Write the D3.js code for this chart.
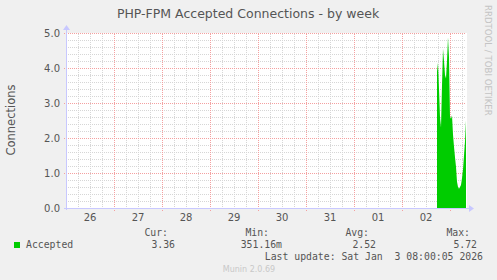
<!DOCTYPE html>
<html>
<head>
<meta charset="utf-8">
<script src="https://cdn.jsdelivr.net/npm/d3@7"></script>
<style>
  body { margin: 0; background: #f0f0f0; }
  svg { display: block; }
</style>
</head>
<body>
<div id="chart"></div>
<script>
// data (30 min averages)
var seriesName = "Accepted";
var dataStart = new Date(2026, 0, 2, 17, 30);
var acceptedValues = [3.9, 4.15, 3.4, 2.6, 2.3, 3.5, 4.55, 4.2, 3.8, 3.7,
    4.2, 4.88, 4.3, 2.6, 2.55, 2.65, 2.1, 1.75, 1.45, 1.18,
    0.75, 0.6, 0.55, 0.6, 0.66, 0.85, 1.1, 1.5, 1.9, 2.5];
var yTicks = [0, 1, 2, 3, 4, 5];
var legendHeaders = ["Cur:", "Min:", "Avg:", "Max:"];
var legendValues = ["3.36", "351.16m", "2.52", "5.72"];
var titleText = "PHP-FPM Accepted Connections - by week";
var yLabel = "Connections";
var lastUpdate = "Last update: Sat Jan  3 08:00:05 2026";
var footer = "Munin 2.0.69";
var sideText = "RRDTOOL / TOBI OETIKER";

var width = 497, height = 280;
var plot = {left: 66, right: 466, top: 33, bottom: 208};

var svg = d3.select("#chart")
    .append("svg")
    .attr("width", width)
    .attr("height", height);

svg.append("rect")
    .attr("width", width).attr("height", height)
    .attr("fill", "#f0f0f0");

var x = d3.scaleTime()
    .domain([new Date(2025, 11, 26, 0, 0), new Date(2026, 0, 3, 8, 0)])
    .range([plot.left, plot.right]);
var y = d3.scaleLinear()
    .domain([0, 5])
    .range([plot.bottom, plot.top]);

var data = acceptedValues.map(function (v, i) {
    return {t: d3.timeMinute.offset(dataStart, 30 * i), v: v};
});

// dotted line patterns (one pixel on, one pixel off)
var defs = svg.append("defs");
function dotPattern(id, colour, horizontal) {
    var p = defs.append("pattern")
        .attr("id", id)
        .attr("patternUnits", "userSpaceOnUse")
        .attr("width", 2).attr("height", 2);
    p.append("rect")
        .attr("width", horizontal ? 1 : 2)
        .attr("height", horizontal ? 2 : 1)
        .attr("fill", colour)
        .attr("shape-rendering", "crispEdges");
}
var minorColor = "#d6d6d6";
var majorColor = "#f4a0a0";
dotPattern("hMinor", minorColor, true);
dotPattern("vMinor", minorColor, false);
dotPattern("hMajor", majorColor, true);
dotPattern("vMajor", majorColor, false);

// plot background
svg.append("rect")
    .attr("x", plot.left).attr("y", plot.top)
    .attr("width", plot.right - plot.left + 1)
    .attr("height", plot.bottom - plot.top)
    .attr("fill", "#ffffff");

// grid
var grid = svg.append("g").attr("shape-rendering", "crispEdges");
var minorY = d3.range(0, 5.01, 0.2).filter(function (d) { return Math.abs(d - Math.round(d)) > 0.01; });
grid.selectAll(".hminor").data(minorY).enter().append("rect")
    .attr("x", plot.left).attr("width", plot.right - plot.left)
    .attr("y", function (d) { return Math.round(y(d)); })
    .attr("height", 1)
    .attr("fill", "url(#hMinor)");
var minorX = x.ticks(d3.timeHour.every(6)).filter(function (d) { return d.getHours() !== 0; });
grid.selectAll(".vminor").data(minorX).enter().append("rect")
    .attr("x", function (d) { return Math.round(x(d)); })
    .attr("width", 1)
    .attr("y", plot.top).attr("height", plot.bottom - plot.top + 2)
    .attr("fill", "url(#vMinor)");

grid.selectAll(".hmajor").data(yTicks.slice(1)).enter().append("rect")
    .attr("x", plot.left - 2).attr("width", plot.right - plot.left + 2)
    .attr("y", function (d) { return Math.round(y(d)); })
    .attr("height", 1)
    .attr("fill", "url(#hMajor)");
var days = x.ticks(d3.timeDay.every(1)).filter(function (d) { return x(d) > plot.left; });
grid.selectAll(".vmajor").data(days).enter().append("rect")
    .attr("x", function (d) { return Math.round(x(d)); })
    .attr("width", 1)
    .attr("y", plot.top).attr("height", plot.bottom - plot.top + 3)
    .attr("fill", "url(#vMajor)");

// the area
var area = d3.area()
    .x(function (d) { return x(d.t); })
    .y0(y(0))
    .y1(function (d) { return y(d.v); });
svg.append("path")
    .datum(data)
    .attr("d", area)
    .attr("fill", "#00cc00");

// axes with arrows
var axisColor = "#c8c8ff";
svg.append("line")
    .attr("x1", plot.left - 2).attr("x2", plot.right + 4)
    .attr("y1", plot.bottom + 0.5).attr("y2", plot.bottom + 0.5)
    .style("stroke", axisColor);
svg.append("path")
    .attr("d", "M" + (plot.right + 3) + "," + (plot.bottom - 3) + "L" + (plot.right + 8) + "," + (plot.bottom + 0.5) + "L" + (plot.right + 3) + "," + (plot.bottom + 4) + "Z")
    .attr("fill", axisColor);
svg.append("line")
    .attr("x1", plot.left + 0.5).attr("x2", plot.left + 0.5)
    .attr("y1", plot.bottom + 2).attr("y2", plot.top - 4)
    .style("stroke", axisColor);
svg.append("path")
    .attr("d", "M" + (plot.left - 3) + "," + (plot.top - 3) + "L" + (plot.left + 0.5) + "," + (plot.top - 8) + "L" + (plot.left + 4) + "," + (plot.top - 3) + "Z")
    .attr("fill", axisColor);

// tick labels
var tickFont = "'DejaVu Sans', sans-serif";
svg.selectAll(".ylab").data(yTicks).enter().append("text")
    .attr("x", plot.left - 6)
    .attr("y", function (d) { return y(d); })
    .attr("dy", "0.36em")
    .attr("text-anchor", "end")
    .style("font-family", tickFont).style("font-size", "10px")
    .style("fill", "#555")
    .text(d3.format(".1f"));

var dayLabels = x.ticks(d3.timeHour.every(12)).filter(function (d) { return d.getHours() === 12; });
svg.selectAll(".xlab").data(dayLabels).enter().append("text")
    .attr("x", function (d) { return x(d); })
    .attr("y", 221)
    .attr("text-anchor", "middle")
    .style("font-family", tickFont).style("font-size", "10px")
    .style("fill", "#555")
    .text(d3.timeFormat("%d"));

// title and labels
svg.append("text")
    .attr("x", 248).attr("y", 18)
    .attr("text-anchor", "middle")
    .style("font-family", tickFont).style("font-size", "12.5px")
    .style("fill", "#555")
    .text(titleText);

svg.append("text")
    .attr("transform", "translate(15,120) rotate(-90)")
    .attr("text-anchor", "middle")
    .style("font-family", tickFont).style("font-size", "11.5px")
    .style("fill", "#555")
    .text(yLabel);

svg.append("text")
    .attr("transform", "translate(485,5) rotate(90)")
    .attr("text-anchor", "start")
    .style("font-family", tickFont).style("font-size", "8.6px")
    .style("fill", "#c4c4c4")
    .text(sideText);

// legend
var mono = "'DejaVu Sans Mono', monospace";
svg.append("rect")
    .attr("x", 14).attr("y", 242).attr("width", 6).attr("height", 6)
    .attr("fill", "#00cc00");
svg.append("text")
    .attr("x", 26).attr("y", 248)
    .style("font-family", mono).style("font-size", "9.8px")
    .style("fill", "#555")
    .text(seriesName);

var headerRight = [168, 269, 369, 470];
var valueRight = [175, 282, 376, 477];
svg.selectAll(".lhead").data(legendHeaders).enter().append("text")
    .attr("x", function (d, i) { return headerRight[i]; })
    .attr("y", 236)
    .attr("text-anchor", "end")
    .style("font-family", mono).style("font-size", "9.8px")
    .style("fill", "#555")
    .text(function (d) { return d; });
svg.selectAll(".lval").data(legendValues).enter().append("text")
    .attr("x", function (d, i) { return valueRight[i]; })
    .attr("y", 248)
    .attr("text-anchor", "end")
    .style("font-family", mono).style("font-size", "9.8px")
    .style("fill", "#555")
    .text(function (d) { return d; });

svg.append("text")
    .attr("x", 483).attr("y", 260)
    .attr("text-anchor", "end")
    .style("font-family", mono).style("font-size", "9.8px")
    .style("fill", "#555")
    .style("white-space", "pre")
    .attr("xml:space", "preserve")
    .text(lastUpdate);

svg.append("text")
    .attr("x", 249).attr("y", 272)
    .attr("text-anchor", "middle")
    .style("font-family", tickFont).style("font-size", "8px")
    .style("fill", "#c8c8c8")
    .text(footer);
</script>
</body>
</html>
